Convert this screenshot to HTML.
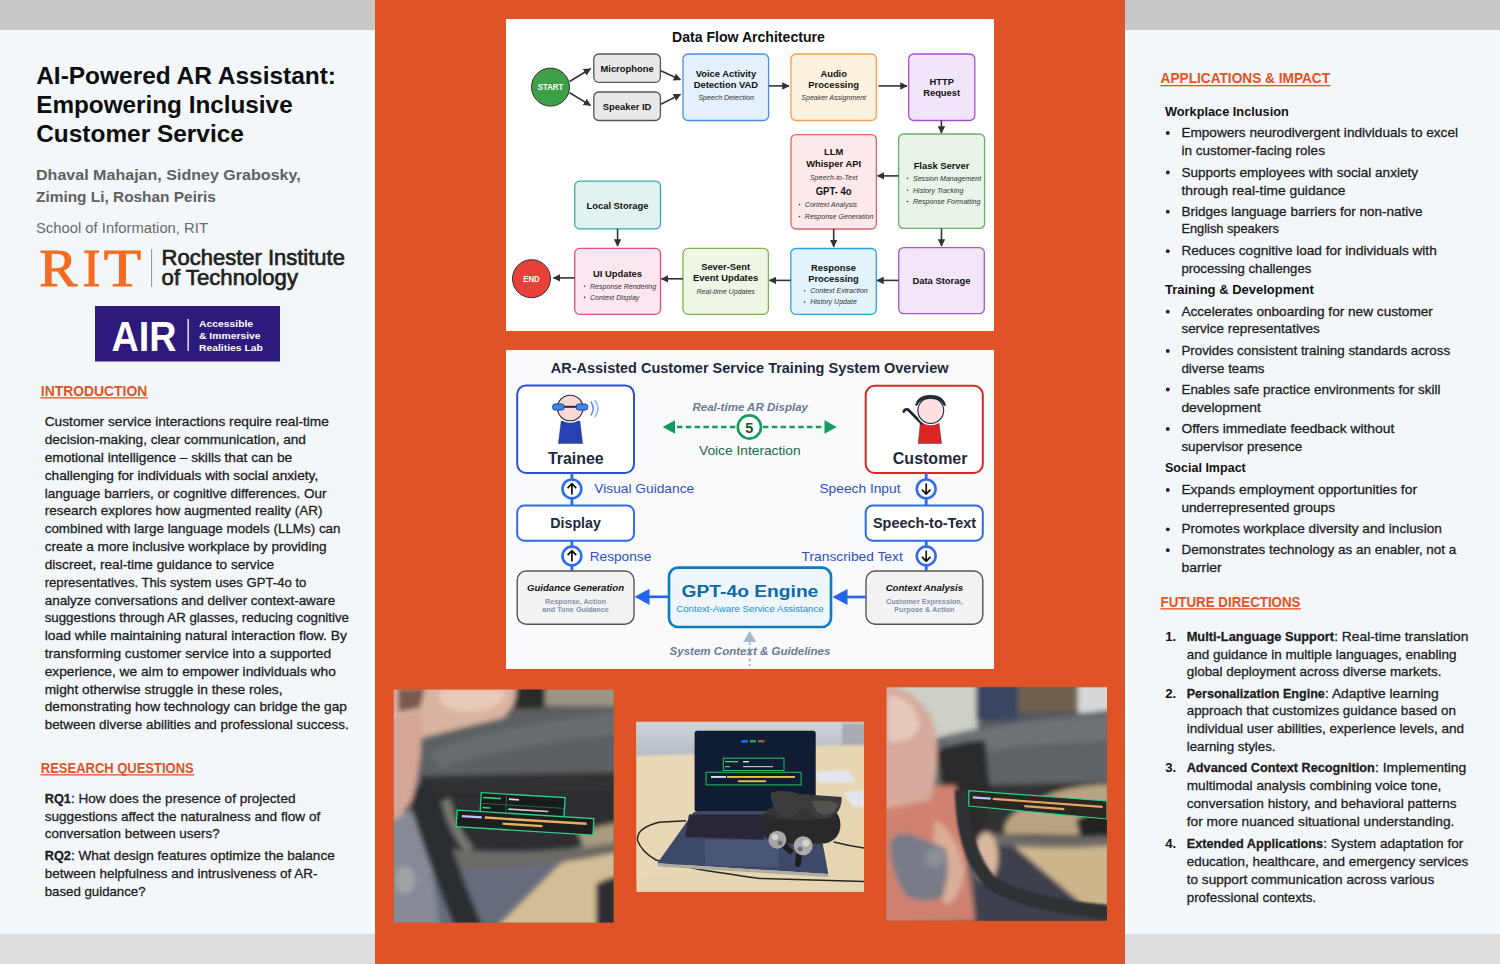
<!DOCTYPE html>
<html><head><meta charset="utf-8"><title>AI-Powered AR Assistant poster</title>
<style>
html,body{margin:0;padding:0;width:1500px;height:964px;overflow:hidden;background:#f4f7fa;}
svg{display:block;font-family:"Liberation Sans",sans-serif;}
</style></head><body>
<svg width="1500" height="964" viewBox="0 0 1500 964">
<rect x="0" y="0" width="1500" height="964" fill="#f4f7fa"/>
<rect x="0" y="0" width="375" height="30" fill="#c8c8c8"/>
<rect x="1125" y="0" width="375" height="30" fill="#c8c8c8"/>
<rect x="0" y="934" width="375" height="30" fill="#dddddd"/>
<rect x="1125" y="934" width="375" height="30" fill="#dddddd"/>
<rect x="375" y="0" width="750" height="964" fill="#df5326"/>
<rect x="371.5" y="30" width="3.5" height="904" fill="#fcfdfe"/>
<rect x="1125" y="30" width="2.5" height="904" fill="#fcfdfe"/>
<text transform="translate(36.20,83.90) scale(0.9946,1)" font-size="24.6" font-weight="bold" font-style="normal" fill="#0d0d0d" >AI-Powered AR Assistant:</text>
<text transform="translate(36.20,113.40) scale(0.9879,1)" font-size="24.6" font-weight="bold" font-style="normal" fill="#0d0d0d" >Empowering Inclusive</text>
<text transform="translate(36.20,142.30) scale(0.9933,1)" font-size="24.6" font-weight="bold" font-style="normal" fill="#0d0d0d" >Customer Service</text>
<text transform="translate(36.00,179.60) scale(1.0574,1)" font-size="15.2" font-weight="bold" font-style="normal" fill="#606060" >Dhaval Mahajan, Sidney Grabosky,</text>
<text transform="translate(36.00,202.30) scale(1.0143,1)" font-size="15.2" font-weight="bold" font-style="normal" fill="#606060" >Ziming Li, Roshan Peiris</text>
<text transform="translate(36.00,233.00) scale(1.0427,1)" font-size="14.2" font-weight="normal" font-style="normal" fill="#6a6a6a" >School of Information, RIT</text>
<text x="39.2" y="286.4" font-family="Liberation Serif" font-size="52" fill="#f36c21" stroke="#f36c21" stroke-width="1.0" textLength="38.1" lengthAdjust="spacingAndGlyphs">R</text>
<text x="82.8" y="286.4" font-family="Liberation Serif" font-size="52" fill="#f36c21" stroke="#f36c21" stroke-width="1.0" textLength="17.6" lengthAdjust="spacingAndGlyphs">I</text>
<text x="103.7" y="286.4" font-family="Liberation Serif" font-size="52" fill="#f36c21" stroke="#f36c21" stroke-width="1.0" textLength="37.4" lengthAdjust="spacingAndGlyphs">T</text>
<rect x="151" y="249" width="1.1" height="38" fill="#9a9a9a"/>
<text transform="translate(161.60,264.60) scale(0.9776,1)" font-size="22.5" font-weight="normal" font-style="normal" fill="#231f20" stroke="#231f20" stroke-width="0.7">Rochester Institute</text>
<text transform="translate(161.60,285.10) scale(0.9853,1)" font-size="22.5" font-weight="normal" font-style="normal" fill="#231f20" stroke="#231f20" stroke-width="0.7">of Technology</text>
<rect x="95" y="306" width="185" height="55.5" fill="#2d1a7c"/>
<text transform="translate(111.60,350.70) scale(0.8777,1)" font-size="43" font-weight="bold" font-style="normal" fill="#fff" >AIR</text>
<rect x="187.5" y="319" width="1.3" height="32" fill="#fff"/>
<text transform="translate(199.00,326.90) scale(1.0568,1)" font-size="9.8" font-weight="bold" font-style="normal" fill="#fff" >Accessible</text>
<text transform="translate(199.00,339.00) scale(1.0568,1)" font-size="9.8" font-weight="bold" font-style="normal" fill="#fff" >&amp; Immersive</text>
<text transform="translate(199.00,350.70) scale(1.0568,1)" font-size="9.8" font-weight="bold" font-style="normal" fill="#fff" >Realities Lab</text>
<text transform="translate(40.80,395.60) scale(0.9029,1)" font-size="15.4" font-weight="bold" font-style="normal" fill="#e4531f" >INTRODUCTION</text>
<rect x="40.5" y="397.20000000000005" width="107.19999999999999" height="1.3" fill="#e4531f"/>
<text transform="translate(44.70,426.40) scale(1.0393,1)" font-size="13.2" font-weight="normal" font-style="normal" fill="#1c1c1c" stroke="#1c1c1c" stroke-width="0.28">Customer service interactions require real-time</text>
<text transform="translate(44.70,444.21) scale(1.0331,1)" font-size="13.2" font-weight="normal" font-style="normal" fill="#1c1c1c" stroke="#1c1c1c" stroke-width="0.28">decision-making, clear communication, and</text>
<text transform="translate(44.70,462.02) scale(1.0355,1)" font-size="13.2" font-weight="normal" font-style="normal" fill="#1c1c1c" stroke="#1c1c1c" stroke-width="0.28">emotional intelligence – skills that can be</text>
<text transform="translate(44.70,479.83) scale(1.0371,1)" font-size="13.2" font-weight="normal" font-style="normal" fill="#1c1c1c" stroke="#1c1c1c" stroke-width="0.28">challenging for individuals with social anxiety,</text>
<text transform="translate(44.70,497.64) scale(1.0265,1)" font-size="13.2" font-weight="normal" font-style="normal" fill="#1c1c1c" stroke="#1c1c1c" stroke-width="0.28">language barriers, or cognitive differences. Our</text>
<text transform="translate(44.70,515.45) scale(1.0213,1)" font-size="13.2" font-weight="normal" font-style="normal" fill="#1c1c1c" stroke="#1c1c1c" stroke-width="0.28">research explores how augmented reality (AR)</text>
<text transform="translate(44.70,533.26) scale(1.0165,1)" font-size="13.2" font-weight="normal" font-style="normal" fill="#1c1c1c" stroke="#1c1c1c" stroke-width="0.28">combined with large language models (LLMs) can</text>
<text transform="translate(44.70,551.07) scale(1.0312,1)" font-size="13.2" font-weight="normal" font-style="normal" fill="#1c1c1c" stroke="#1c1c1c" stroke-width="0.28">create a more inclusive workplace by providing</text>
<text transform="translate(44.70,568.88) scale(1.0324,1)" font-size="13.2" font-weight="normal" font-style="normal" fill="#1c1c1c" stroke="#1c1c1c" stroke-width="0.28">discreet, real-time guidance to service</text>
<text transform="translate(44.70,586.69) scale(0.9957,1)" font-size="13.2" font-weight="normal" font-style="normal" fill="#1c1c1c" stroke="#1c1c1c" stroke-width="0.28">representatives. This system uses GPT-4o to</text>
<text transform="translate(44.70,604.50) scale(1.0188,1)" font-size="13.2" font-weight="normal" font-style="normal" fill="#1c1c1c" stroke="#1c1c1c" stroke-width="0.28">analyze conversations and deliver context-aware</text>
<text transform="translate(44.70,622.31) scale(1.0075,1)" font-size="13.2" font-weight="normal" font-style="normal" fill="#1c1c1c" stroke="#1c1c1c" stroke-width="0.28">suggestions through AR glasses, reducing cognitive</text>
<text transform="translate(44.70,640.12) scale(1.0517,1)" font-size="13.2" font-weight="normal" font-style="normal" fill="#1c1c1c" stroke="#1c1c1c" stroke-width="0.28">load while maintaining natural interaction flow. By</text>
<text transform="translate(44.70,657.93) scale(1.0413,1)" font-size="13.2" font-weight="normal" font-style="normal" fill="#1c1c1c" stroke="#1c1c1c" stroke-width="0.28">transforming customer service into a supported</text>
<text transform="translate(44.70,675.74) scale(1.0424,1)" font-size="13.2" font-weight="normal" font-style="normal" fill="#1c1c1c" stroke="#1c1c1c" stroke-width="0.28">experience, we aim to empower individuals who</text>
<text transform="translate(44.70,693.55) scale(1.0401,1)" font-size="13.2" font-weight="normal" font-style="normal" fill="#1c1c1c" stroke="#1c1c1c" stroke-width="0.28">might otherwise struggle in these roles,</text>
<text transform="translate(44.70,711.36) scale(1.0357,1)" font-size="13.2" font-weight="normal" font-style="normal" fill="#1c1c1c" stroke="#1c1c1c" stroke-width="0.28">demonstrating how technology can bridge the gap</text>
<text transform="translate(44.70,729.17) scale(1.0161,1)" font-size="13.2" font-weight="normal" font-style="normal" fill="#1c1c1c" stroke="#1c1c1c" stroke-width="0.28">between diverse abilities and professional success.</text>
<text transform="translate(40.80,772.60) scale(0.8434,1)" font-size="15.4" font-weight="bold" font-style="normal" fill="#e4531f" >RESEARCH QUESTIONS</text>
<rect x="40.5" y="774.2" width="153.6" height="1.3" fill="#e4531f"/>
<text transform="translate(44.70,803.10) scale(0.9653,1)" font-size="13.2" font-weight="bold" font-style="normal" fill="#1c1c1c" stroke="#1c1c1c" stroke-width="0.28">RQ1</text>
<text transform="translate(70.90,803.10) scale(1.0276,1)" font-size="13.2" font-weight="normal" font-style="normal" fill="#1c1c1c" stroke="#1c1c1c" stroke-width="0.28">: How does the presence of projected</text>
<text transform="translate(44.70,820.60) scale(1.0306,1)" font-size="13.2" font-weight="normal" font-style="normal" fill="#1c1c1c" stroke="#1c1c1c" stroke-width="0.28">suggestions affect the naturalness and flow of</text>
<text transform="translate(44.70,838.30) scale(1.0198,1)" font-size="13.2" font-weight="normal" font-style="normal" fill="#1c1c1c" stroke="#1c1c1c" stroke-width="0.28">conversation between users?</text>
<text transform="translate(44.70,859.70) scale(0.9653,1)" font-size="13.2" font-weight="bold" font-style="normal" fill="#1c1c1c" stroke="#1c1c1c" stroke-width="0.28">RQ2</text>
<text transform="translate(70.90,859.70) scale(1.0284,1)" font-size="13.2" font-weight="normal" font-style="normal" fill="#1c1c1c" stroke="#1c1c1c" stroke-width="0.28">: What design features optimize the balance</text>
<text transform="translate(44.70,877.60) scale(1.0225,1)" font-size="13.2" font-weight="normal" font-style="normal" fill="#1c1c1c" stroke="#1c1c1c" stroke-width="0.28">between helpfulness and intrusiveness of AR-</text>
<text transform="translate(44.70,895.50) scale(1.0034,1)" font-size="13.2" font-weight="normal" font-style="normal" fill="#1c1c1c" stroke="#1c1c1c" stroke-width="0.28">based guidance?</text>
<text transform="translate(1160.60,83.40) scale(0.8876,1)" font-size="15.4" font-weight="bold" font-style="normal" fill="#e4531f" >APPLICATIONS &amp; IMPACT</text>
<rect x="1160.3" y="85.0" width="170.2" height="1.3" fill="#e4531f"/>
<text transform="translate(1165.00,115.80) scale(0.9678,1)" font-size="13.2" font-weight="bold" font-style="normal" fill="#111" >Workplace Inclusion</text>
<circle cx="1167.8" cy="133.0" r="1.9" fill="#222"/>
<text transform="translate(1181.40,137.00) scale(1.0311,1)" font-size="13.2" font-weight="normal" font-style="normal" fill="#1c1c1c" stroke="#1c1c1c" stroke-width="0.28">Empowers neurodivergent individuals to excel</text>
<text transform="translate(1181.40,154.70) scale(1.0241,1)" font-size="13.2" font-weight="normal" font-style="normal" fill="#1c1c1c" stroke="#1c1c1c" stroke-width="0.28">in customer-facing roles</text>
<circle cx="1167.8" cy="172.5" r="1.9" fill="#222"/>
<text transform="translate(1181.40,176.50) scale(1.0278,1)" font-size="13.2" font-weight="normal" font-style="normal" fill="#1c1c1c" stroke="#1c1c1c" stroke-width="0.28">Supports employees with social anxiety</text>
<text transform="translate(1181.40,194.50) scale(1.0450,1)" font-size="13.2" font-weight="normal" font-style="normal" fill="#1c1c1c" stroke="#1c1c1c" stroke-width="0.28">through real-time guidance</text>
<circle cx="1167.8" cy="211.7" r="1.9" fill="#222"/>
<text transform="translate(1181.40,215.70) scale(1.0244,1)" font-size="13.2" font-weight="normal" font-style="normal" fill="#1c1c1c" stroke="#1c1c1c" stroke-width="0.28">Bridges language barriers for non-native</text>
<text transform="translate(1181.40,233.40) scale(0.9709,1)" font-size="13.2" font-weight="normal" font-style="normal" fill="#1c1c1c" stroke="#1c1c1c" stroke-width="0.28">English speakers</text>
<circle cx="1167.8" cy="251.2" r="1.9" fill="#222"/>
<text transform="translate(1181.40,255.20) scale(1.0302,1)" font-size="13.2" font-weight="normal" font-style="normal" fill="#1c1c1c" stroke="#1c1c1c" stroke-width="0.28">Reduces cognitive load for individuals with</text>
<text transform="translate(1181.40,273.00) scale(0.9953,1)" font-size="13.2" font-weight="normal" font-style="normal" fill="#1c1c1c" stroke="#1c1c1c" stroke-width="0.28">processing challenges</text>
<text transform="translate(1165.00,294.10) scale(0.9855,1)" font-size="13.2" font-weight="bold" font-style="normal" fill="#111" >Training &amp; Development</text>
<circle cx="1167.8" cy="311.7" r="1.9" fill="#222"/>
<text transform="translate(1181.40,315.70) scale(1.0337,1)" font-size="13.2" font-weight="normal" font-style="normal" fill="#1c1c1c" stroke="#1c1c1c" stroke-width="0.28">Accelerates onboarding for new customer</text>
<text transform="translate(1181.40,333.40) scale(1.0204,1)" font-size="13.2" font-weight="normal" font-style="normal" fill="#1c1c1c" stroke="#1c1c1c" stroke-width="0.28">service representatives</text>
<circle cx="1167.8" cy="351.0" r="1.9" fill="#222"/>
<text transform="translate(1181.40,355.00) scale(1.0135,1)" font-size="13.2" font-weight="normal" font-style="normal" fill="#1c1c1c" stroke="#1c1c1c" stroke-width="0.28">Provides consistent training standards across</text>
<text transform="translate(1181.40,372.60) scale(1.0126,1)" font-size="13.2" font-weight="normal" font-style="normal" fill="#1c1c1c" stroke="#1c1c1c" stroke-width="0.28">diverse teams</text>
<circle cx="1167.8" cy="389.5" r="1.9" fill="#222"/>
<text transform="translate(1181.40,393.50) scale(1.0215,1)" font-size="13.2" font-weight="normal" font-style="normal" fill="#1c1c1c" stroke="#1c1c1c" stroke-width="0.28">Enables safe practice environments for skill</text>
<text transform="translate(1181.40,411.50) scale(1.0518,1)" font-size="13.2" font-weight="normal" font-style="normal" fill="#1c1c1c" stroke="#1c1c1c" stroke-width="0.28">development</text>
<circle cx="1167.8" cy="429.0" r="1.9" fill="#222"/>
<text transform="translate(1181.40,433.00) scale(1.0503,1)" font-size="13.2" font-weight="normal" font-style="normal" fill="#1c1c1c" stroke="#1c1c1c" stroke-width="0.28">Offers immediate feedback without</text>
<text transform="translate(1181.40,450.70) scale(1.0180,1)" font-size="13.2" font-weight="normal" font-style="normal" fill="#1c1c1c" stroke="#1c1c1c" stroke-width="0.28">supervisor presence</text>
<text transform="translate(1165.00,472.30) scale(0.9507,1)" font-size="13.2" font-weight="bold" font-style="normal" fill="#111" >Social Impact</text>
<circle cx="1167.8" cy="490.0" r="1.9" fill="#222"/>
<text transform="translate(1181.40,494.00) scale(1.0468,1)" font-size="13.2" font-weight="normal" font-style="normal" fill="#1c1c1c" stroke="#1c1c1c" stroke-width="0.28">Expands employment opportunities for</text>
<text transform="translate(1181.40,511.80) scale(1.0368,1)" font-size="13.2" font-weight="normal" font-style="normal" fill="#1c1c1c" stroke="#1c1c1c" stroke-width="0.28">underrepresented groups</text>
<circle cx="1167.8" cy="529.3" r="1.9" fill="#222"/>
<text transform="translate(1181.40,533.30) scale(1.0329,1)" font-size="13.2" font-weight="normal" font-style="normal" fill="#1c1c1c" stroke="#1c1c1c" stroke-width="0.28">Promotes workplace diversity and inclusion</text>
<circle cx="1167.8" cy="550.2" r="1.9" fill="#222"/>
<text transform="translate(1181.40,554.20) scale(1.0226,1)" font-size="13.2" font-weight="normal" font-style="normal" fill="#1c1c1c" stroke="#1c1c1c" stroke-width="0.28">Demonstrates technology as an enabler, not a</text>
<text transform="translate(1181.40,571.90) scale(1.0591,1)" font-size="13.2" font-weight="normal" font-style="normal" fill="#1c1c1c" stroke="#1c1c1c" stroke-width="0.28">barrier</text>
<text transform="translate(1160.60,606.60) scale(0.8658,1)" font-size="15.4" font-weight="bold" font-style="normal" fill="#e4531f" >FUTURE DIRECTIONS</text>
<rect x="1160.3" y="608.2" width="140.6" height="1.3" fill="#e4531f"/>
<text transform="translate(1165.20,640.50) scale(0.9992,1)" font-size="13.2" font-weight="bold" font-style="normal" fill="#111" >1.</text>
<text transform="translate(1186.70,640.50) scale(0.9718,1)" font-size="13.2" font-weight="bold" font-style="normal" fill="#1c1c1c" stroke="#1c1c1c" stroke-width="0.28">Multi-Language Support</text>
<text transform="translate(1334.20,640.50) scale(1.0453,1)" font-size="13.2" font-weight="normal" font-style="normal" fill="#1c1c1c" stroke="#1c1c1c" stroke-width="0.28">: Real-time translation</text>
<text transform="translate(1186.70,658.50) scale(1.0223,1)" font-size="13.2" font-weight="normal" font-style="normal" fill="#1c1c1c" stroke="#1c1c1c" stroke-width="0.28">and guidance in multiple languages, enabling</text>
<text transform="translate(1186.70,676.40) scale(1.0192,1)" font-size="13.2" font-weight="normal" font-style="normal" fill="#1c1c1c" stroke="#1c1c1c" stroke-width="0.28">global deployment across diverse markets.</text>
<text transform="translate(1165.20,697.50) scale(0.9992,1)" font-size="13.2" font-weight="bold" font-style="normal" fill="#111" >2.</text>
<text transform="translate(1186.70,697.50) scale(0.9523,1)" font-size="13.2" font-weight="bold" font-style="normal" fill="#1c1c1c" stroke="#1c1c1c" stroke-width="0.28">Personalization Engine</text>
<text transform="translate(1325.00,697.50) scale(1.0478,1)" font-size="13.2" font-weight="normal" font-style="normal" fill="#1c1c1c" stroke="#1c1c1c" stroke-width="0.28">: Adaptive learning</text>
<text transform="translate(1186.70,715.30) scale(1.0145,1)" font-size="13.2" font-weight="normal" font-style="normal" fill="#1c1c1c" stroke="#1c1c1c" stroke-width="0.28">approach that customizes guidance based on</text>
<text transform="translate(1186.70,733.00) scale(1.0253,1)" font-size="13.2" font-weight="normal" font-style="normal" fill="#1c1c1c" stroke="#1c1c1c" stroke-width="0.28">individual user abilities, experience levels, and</text>
<text transform="translate(1186.70,750.70) scale(1.0097,1)" font-size="13.2" font-weight="normal" font-style="normal" fill="#1c1c1c" stroke="#1c1c1c" stroke-width="0.28">learning styles.</text>
<text transform="translate(1165.20,772.40) scale(0.9992,1)" font-size="13.2" font-weight="bold" font-style="normal" fill="#111" >3.</text>
<text transform="translate(1186.70,772.40) scale(0.9611,1)" font-size="13.2" font-weight="bold" font-style="normal" fill="#1c1c1c" stroke="#1c1c1c" stroke-width="0.28">Advanced Context Recognition</text>
<text transform="translate(1374.90,772.40) scale(1.0569,1)" font-size="13.2" font-weight="normal" font-style="normal" fill="#1c1c1c" stroke="#1c1c1c" stroke-width="0.28">: Implementing</text>
<text transform="translate(1186.70,790.20) scale(1.0344,1)" font-size="13.2" font-weight="normal" font-style="normal" fill="#1c1c1c" stroke="#1c1c1c" stroke-width="0.28">multimodal analysis combining voice tone,</text>
<text transform="translate(1186.70,808.00) scale(1.0321,1)" font-size="13.2" font-weight="normal" font-style="normal" fill="#1c1c1c" stroke="#1c1c1c" stroke-width="0.28">conversation history, and behavioral patterns</text>
<text transform="translate(1186.70,825.80) scale(1.0405,1)" font-size="13.2" font-weight="normal" font-style="normal" fill="#1c1c1c" stroke="#1c1c1c" stroke-width="0.28">for more nuanced situational understanding.</text>
<text transform="translate(1165.20,847.70) scale(0.9992,1)" font-size="13.2" font-weight="bold" font-style="normal" fill="#111" >4.</text>
<text transform="translate(1186.70,847.70) scale(0.9626,1)" font-size="13.2" font-weight="bold" font-style="normal" fill="#1c1c1c" stroke="#1c1c1c" stroke-width="0.28">Extended Applications</text>
<text transform="translate(1323.20,847.70) scale(1.0329,1)" font-size="13.2" font-weight="normal" font-style="normal" fill="#1c1c1c" stroke="#1c1c1c" stroke-width="0.28">: System adaptation for</text>
<text transform="translate(1186.70,865.60) scale(1.0183,1)" font-size="13.2" font-weight="normal" font-style="normal" fill="#1c1c1c" stroke="#1c1c1c" stroke-width="0.28">education, healthcare, and emergency services</text>
<text transform="translate(1186.70,883.50) scale(1.0325,1)" font-size="13.2" font-weight="normal" font-style="normal" fill="#1c1c1c" stroke="#1c1c1c" stroke-width="0.28">to support communication across various</text>
<text transform="translate(1186.70,901.50) scale(1.0143,1)" font-size="13.2" font-weight="normal" font-style="normal" fill="#1c1c1c" stroke="#1c1c1c" stroke-width="0.28">professional contexts.</text>
<rect x="506" y="19" width="488" height="312" fill="#ffffff"/>
<text transform="translate(672.00,41.70) scale(1.0069,1)" font-size="14" font-weight="bold" font-style="normal" fill="#111" >Data Flow Architecture</text>
<defs><marker id="ah" viewBox="0 0 10 10" refX="9" refY="5" markerWidth="7.5" markerHeight="7.5" markerUnits="userSpaceOnUse" orient="auto"><path d="M0,0 L10,5 L0,10 z" fill="#333"/></marker></defs>
<circle cx="550.5" cy="87.1" r="19" fill="#3da047" stroke="#333" stroke-width="1"/>
<text transform="translate(537.81,90.20) scale(0.9500,1)" font-size="8.2" font-weight="bold" font-style="normal" fill="#fff" >START</text>
<circle cx="531.5" cy="278.7" r="19" fill="#e8413a" stroke="#333" stroke-width="1"/>
<text transform="translate(523.28,281.80) scale(0.9500,1)" font-size="8.2" font-weight="bold" font-style="normal" fill="#fff" >END</text>
<rect x="593.8" y="54" width="66.6" height="28.3" rx="5" fill="#e8e8e8" stroke="#555" stroke-width="1.3"/>
<rect x="593.8" y="92" width="66.6" height="28.5" rx="5" fill="#e8e8e8" stroke="#555" stroke-width="1.3"/>
<text transform="translate(600.47,71.60) scale(1.0000,1)" font-size="9.4" font-weight="bold" font-style="normal" fill="#111" >Microphone</text>
<text transform="translate(602.80,109.60) scale(1.0000,1)" font-size="9.4" font-weight="bold" font-style="normal" fill="#111" >Speaker ID</text>
<rect x="683" y="54" width="85.6" height="66.5" rx="5" fill="#e4f0fc" stroke="#4a90e2" stroke-width="1.3"/>
<text transform="translate(695.70,76.80) scale(1.0000,1)" font-size="9.4" font-weight="bold" font-style="normal" fill="#111" >Voice Activity</text>
<text transform="translate(693.70,87.60) scale(1.0000,1)" font-size="9.4" font-weight="bold" font-style="normal" fill="#111" >Detection VAD</text>
<text transform="translate(698.17,99.50) scale(1.0000,1)" font-size="7.05" font-weight="normal" font-style="italic" fill="#333" >Speech Detection</text>
<rect x="791" y="54" width="85.4" height="66.5" rx="5" fill="#fdf1e0" stroke="#f5a04a" stroke-width="1.3"/>
<text transform="translate(820.39,76.80) scale(1.0000,1)" font-size="9.4" font-weight="bold" font-style="normal" fill="#111" >Audio</text>
<text transform="translate(808.36,87.60) scale(1.0000,1)" font-size="9.4" font-weight="bold" font-style="normal" fill="#111" >Processing</text>
<text transform="translate(801.30,99.50) scale(1.0000,1)" font-size="7.05" font-weight="normal" font-style="italic" fill="#333" >Speaker Assignment</text>
<rect x="908.7" y="54" width="66.1" height="66.5" rx="5" fill="#f1e6f9" stroke="#a64fd1" stroke-width="1.3"/>
<text transform="translate(929.43,85.20) scale(1.0000,1)" font-size="9.4" font-weight="bold" font-style="normal" fill="#111" >HTTP</text>
<text transform="translate(923.16,96.40) scale(1.0000,1)" font-size="9.4" font-weight="bold" font-style="normal" fill="#111" >Request</text>
<rect x="791" y="134.6" width="85.4" height="94.4" rx="5" fill="#fde8ea" stroke="#e06666" stroke-width="1.3"/>
<text transform="translate(824.04,154.90) scale(1.0000,1)" font-size="9.4" font-weight="bold" font-style="normal" fill="#111" >LLM</text>
<text transform="translate(806.19,167.00) scale(1.0000,1)" font-size="9.4" font-weight="bold" font-style="normal" fill="#111" >Whisper API</text>
<text transform="translate(809.92,179.50) scale(1.0000,1)" font-size="7.05" font-weight="normal" font-style="italic" fill="#333" >Speech-to-Text</text>
<text transform="translate(815.70,195.00) scale(0.9528,1)" font-size="10" font-weight="bold" font-style="normal" fill="#111" >GPT- 4o</text>
<circle cx="799.5" cy="204.6" r="0.8" fill="#333"/>
<text transform="translate(804.80,206.90) scale(1.0000,1)" font-size="7.05" font-weight="normal" font-style="italic" fill="#333" >Context Analysis</text>
<circle cx="799.5" cy="216.5" r="0.8" fill="#333"/>
<text transform="translate(804.80,218.80) scale(1.0000,1)" font-size="7.05" font-weight="normal" font-style="italic" fill="#333" >Response Generation</text>
<rect x="898.6" y="134" width="86.0" height="94.4" rx="5" fill="#e7f4e7" stroke="#6ab06a" stroke-width="1.3"/>
<text transform="translate(913.64,168.70) scale(1.0000,1)" font-size="9.4" font-weight="bold" font-style="normal" fill="#111" >Flask Server</text>
<circle cx="907.5" cy="178.29999999999998" r="0.8" fill="#333"/>
<text transform="translate(913.00,180.60) scale(1.0000,1)" font-size="7.05" font-weight="normal" font-style="italic" fill="#333" >Session Management</text>
<circle cx="907.5" cy="190.29999999999998" r="0.8" fill="#333"/>
<text transform="translate(913.00,192.60) scale(1.0000,1)" font-size="7.05" font-weight="normal" font-style="italic" fill="#333" >History Tracking</text>
<circle cx="907.5" cy="201.5" r="0.8" fill="#333"/>
<text transform="translate(913.00,203.80) scale(1.0000,1)" font-size="7.05" font-weight="normal" font-style="italic" fill="#333" >Response Formatting</text>
<rect x="574.7" y="181.2" width="85.8" height="47.6" rx="5" fill="#e1f2f2" stroke="#3aa8a8" stroke-width="1.3"/>
<text transform="translate(586.52,209.20) scale(1.0000,1)" font-size="9.4" font-weight="bold" font-style="normal" fill="#111" >Local Storage</text>
<rect x="574.7" y="248.4" width="85.8" height="65.9" rx="5" fill="#fce6ef" stroke="#e94a8a" stroke-width="1.3"/>
<text transform="translate(593.05,276.80) scale(1.0000,1)" font-size="9.4" font-weight="bold" font-style="normal" fill="#111" >UI Updates</text>
<circle cx="584.6" cy="286.2" r="0.8" fill="#333"/>
<text transform="translate(590.00,288.50) scale(1.0000,1)" font-size="7.05" font-weight="normal" font-style="italic" fill="#333" >Response Rendering</text>
<circle cx="584.6" cy="297.4" r="0.8" fill="#333"/>
<text transform="translate(590.00,299.70) scale(1.0000,1)" font-size="7.05" font-weight="normal" font-style="italic" fill="#333" >Context Display</text>
<rect x="683" y="248.4" width="85.4" height="65.9" rx="5" fill="#eef6e6" stroke="#7ab648" stroke-width="1.3"/>
<text transform="translate(701.14,270.40) scale(1.0000,1)" font-size="9.4" font-weight="bold" font-style="normal" fill="#111" >Sever-Sent</text>
<text transform="translate(693.05,281.00) scale(1.0000,1)" font-size="9.4" font-weight="bold" font-style="normal" fill="#111" >Event Updates</text>
<text transform="translate(696.51,293.60) scale(1.0000,1)" font-size="7.05" font-weight="normal" font-style="italic" fill="#333" >Real-time Updates</text>
<rect x="790.8" y="248.5" width="85.5" height="65.8" rx="5" fill="#e2f3fb" stroke="#29a3e0" stroke-width="1.3"/>
<text transform="translate(811.04,270.90) scale(1.0000,1)" font-size="9.4" font-weight="bold" font-style="normal" fill="#111" >Response</text>
<text transform="translate(808.16,281.50) scale(1.0000,1)" font-size="9.4" font-weight="bold" font-style="normal" fill="#111" >Processing</text>
<circle cx="804.6" cy="290.8" r="0.8" fill="#333"/>
<text transform="translate(810.20,293.10) scale(1.0000,1)" font-size="7.05" font-weight="normal" font-style="italic" fill="#333" >Context Extraction</text>
<circle cx="804.6" cy="302.09999999999997" r="0.8" fill="#333"/>
<text transform="translate(810.20,304.40) scale(1.0000,1)" font-size="7.05" font-weight="normal" font-style="italic" fill="#333" >History Update</text>
<rect x="898.7" y="247.6" width="85.6" height="66.1" rx="5" fill="#f2e6f8" stroke="#a05cc8" stroke-width="1.3"/>
<text transform="translate(912.51,284.30) scale(1.0000,1)" font-size="9.4" font-weight="bold" font-style="normal" fill="#111" >Data Storage</text>
<line x1="569.6" y1="81.5" x2="590.5" y2="68.8" stroke="#333" stroke-width="1.6" marker-end="url(#ah)"/>
<line x1="569.6" y1="92.7" x2="590.5" y2="105.4" stroke="#333" stroke-width="1.6" marker-end="url(#ah)"/>
<line x1="660.8" y1="70.8" x2="680.5" y2="79.8" stroke="#333" stroke-width="1.6" marker-end="url(#ah)"/>
<line x1="660.8" y1="104.3" x2="680.5" y2="94.4" stroke="#333" stroke-width="1.6" marker-end="url(#ah)"/>
<line x1="769" y1="85.9" x2="789" y2="85.9" stroke="#333" stroke-width="1.6" marker-end="url(#ah)"/>
<line x1="878.4" y1="85.9" x2="907" y2="85.9" stroke="#333" stroke-width="1.6" marker-end="url(#ah)"/>
<line x1="941.4" y1="120.5" x2="941.4" y2="132.9" stroke="#333" stroke-width="1.6" marker-end="url(#ah)"/>
<line x1="898.6" y1="175.9" x2="877.6" y2="175.9" stroke="#333" stroke-width="1.6" marker-end="url(#ah)"/>
<line x1="833.7" y1="229" x2="833.7" y2="246.7" stroke="#333" stroke-width="1.6" marker-end="url(#ah)"/>
<line x1="941.5" y1="228.4" x2="941.5" y2="246" stroke="#333" stroke-width="1.6" marker-end="url(#ah)"/>
<line x1="898.7" y1="280.4" x2="877" y2="280.4" stroke="#333" stroke-width="1.6" marker-end="url(#ah)"/>
<line x1="790.8" y1="280.4" x2="769.5" y2="280.4" stroke="#333" stroke-width="1.6" marker-end="url(#ah)"/>
<line x1="683" y1="278.8" x2="661.5" y2="278.8" stroke="#333" stroke-width="1.6" marker-end="url(#ah)"/>
<line x1="574.7" y1="277.9" x2="553.5" y2="277.9" stroke="#333" stroke-width="1.6" marker-end="url(#ah)"/>
<line x1="617.6" y1="228.8" x2="617.6" y2="246" stroke="#333" stroke-width="1.6" marker-end="url(#ah)"/>
<rect x="506" y="350" width="488" height="319" fill="#f8fafc"/>
<text transform="translate(550.80,373.20) scale(1.0504,1)" font-size="13.8" font-weight="bold" font-style="normal" fill="#1e293b" >AR-Assisted Customer Service Training System Overview</text>
<rect x="517.2" y="385.4" width="116.8" height="87.6" rx="9" fill="#fff" stroke="#2b4fd0" stroke-width="2"/>
<text transform="translate(548.00,463.80) scale(0.9639,1)" font-size="16.5" font-weight="bold" font-style="normal" fill="#1e293b" >Trainee</text>
<path d="M561.2,421 L579.9,421 L582.6,443.5 L558.4,443.5 Z" fill="#2541b2" stroke="#1e293b" stroke-width="0.4"/>
<circle cx="570.2" cy="408" r="13.3" fill="#fff" stroke="#fff" stroke-width="3"/>
<circle cx="570.2" cy="408" r="12.8" fill="#fad8d6" stroke="#1e293b" stroke-width="1.1"/>
<line x1="563" y1="406.8" x2="577" y2="406.8" stroke="#1e293b" stroke-width="2"/>
<rect x="552.6" y="403.9" width="11.6" height="6.2" rx="2.6" fill="#3f86ea" stroke="#1e3a7a" stroke-width="0.9"/>
<rect x="576.2" y="403.9" width="11.6" height="6.2" rx="2.6" fill="#3f86ea" stroke="#1e3a7a" stroke-width="0.9"/>
<path d="M590.8,401.5 Q595.5,408.7 590.8,415.5" stroke="#5b8ef0" stroke-width="1.5" fill="none"/>
<path d="M594.8,400 Q601,408.7 594.8,417" stroke="#8db0f5" stroke-width="1.5" fill="none"/>
<rect x="865.7" y="385.8" width="117.1" height="87.2" rx="9" fill="#fff" stroke="#dc2626" stroke-width="2"/>
<text transform="translate(892.80,463.80) scale(0.9699,1)" font-size="16.5" font-weight="bold" font-style="normal" fill="#1e293b" >Customer</text>
<path d="M920.4,421.5 L938.8,421.5 L941.6,443.5 L918.2,443.5 Z" fill="#dc2626" stroke="#1e293b" stroke-width="0.4"/>
<path d="M903.8,411.6 Q905,408.6 908,409.6 L921.8,423.5" stroke="#1e293b" stroke-width="2.8" fill="none" stroke-linecap="round" stroke-linejoin="round"/>
<circle cx="930.8" cy="410.5" r="13.2" fill="#fff" stroke="#fff" stroke-width="3"/>
<circle cx="930.8" cy="410.5" r="12.9" fill="#fde0e0" stroke="#1e293b" stroke-width="1.1"/>
<path d="M915.6,405.3 Q917.5,395.5 930.5,395.3 Q943.5,395.5 945.5,405.3 L944,405.3 Q941.5,398.6 930.5,398.5 Q919.5,398.6 917,405.3 Z" fill="#1e293b" stroke="#1e293b" stroke-width="0.8"/>
<text transform="translate(692.40,410.60) scale(1.0317,1)" font-size="11.2" font-weight="bold" font-style="italic" fill="#6b7a90" >Real-time AR Display</text>
<line x1="677" y1="427" x2="737" y2="427" stroke="#169a60" stroke-width="2.6" stroke-dasharray="5.5,3.3"/>
<line x1="763" y1="427" x2="823" y2="427" stroke="#169a60" stroke-width="2.6" stroke-dasharray="5.5,3.3"/>
<path d="M662.7,427 L675,420.3 L675,433.7 Z" fill="#169a60"/>
<path d="M836.7,427 L824.5,420.3 L824.5,433.7 Z" fill="#169a60"/>
<circle cx="749.4" cy="427" r="11.6" fill="#fff" stroke="#169a60" stroke-width="2.6"/>
<text transform="translate(745.37,432.60) scale(1.0000,1)" font-size="14.5" font-weight="bold" font-style="normal" fill="#14532d" >5</text>
<text transform="translate(699.00,455.40) scale(1.0581,1)" font-size="13" font-weight="normal" font-style="normal" fill="#1b6b48" >Voice Interaction</text>
<line x1="571.9" y1="473" x2="571.9" y2="505.6" stroke="#2f6bf0" stroke-width="2.8"/>
<circle cx="571.9" cy="488.9" r="9.4" fill="#fff" stroke="#2f6bf0" stroke-width="2.6"/>
<path d="M571.9,494.4 L571.9,483.9 M567.6,488.09999999999997 L571.9,483.7 L576.1999999999999,488.09999999999997" stroke="#111" stroke-width="1.7" fill="none"/>
<line x1="926.2" y1="473" x2="926.2" y2="505.6" stroke="#2f6bf0" stroke-width="2.8"/>
<circle cx="926.2" cy="488.9" r="9.4" fill="#fff" stroke="#2f6bf0" stroke-width="2.6"/>
<path d="M926.2,483.4 L926.2,493.9 M921.9000000000001,489.7 L926.2,494.09999999999997 L930.5,489.7" stroke="#111" stroke-width="1.7" fill="none"/>
<line x1="571.9" y1="540.7" x2="571.9" y2="571" stroke="#2f6bf0" stroke-width="2.8"/>
<circle cx="571.9" cy="556" r="9.4" fill="#fff" stroke="#2f6bf0" stroke-width="2.6"/>
<path d="M571.9,561.5 L571.9,551 M567.6,555.2 L571.9,550.8 L576.1999999999999,555.2" stroke="#111" stroke-width="1.7" fill="none"/>
<line x1="926.2" y1="540.7" x2="926.2" y2="571" stroke="#2f6bf0" stroke-width="2.8"/>
<circle cx="926.2" cy="556" r="9.4" fill="#fff" stroke="#2f6bf0" stroke-width="2.6"/>
<path d="M926.2,550.5 L926.2,561 M921.9000000000001,556.8 L926.2,561.2 L930.5,556.8" stroke="#111" stroke-width="1.7" fill="none"/>
<text transform="translate(594.30,493.20) scale(1.0578,1)" font-size="13" font-weight="normal" font-style="normal" fill="#2f4fc8" >Visual Guidance</text>
<text transform="translate(819.40,493.20) scale(1.0598,1)" font-size="13" font-weight="normal" font-style="normal" fill="#2f4fc8" >Speech Input</text>
<text transform="translate(589.70,560.70) scale(1.0523,1)" font-size="13" font-weight="normal" font-style="normal" fill="#2f4fc8" >Response</text>
<text transform="translate(801.60,560.70) scale(1.0621,1)" font-size="13" font-weight="normal" font-style="normal" fill="#2f4fc8" >Transcribed Text</text>
<rect x="517.2" y="505.6" width="116.8" height="35.1" rx="7" fill="#fff" stroke="#2f6bf0" stroke-width="2"/>
<rect x="865.7" y="505.6" width="117.1" height="35.1" rx="7" fill="#fff" stroke="#2f6bf0" stroke-width="2"/>
<text transform="translate(550.35,528.00) scale(0.9859,1)" font-size="14.4" font-weight="bold" font-style="normal" fill="#1e293b" >Display</text>
<text transform="translate(872.95,528.00) scale(1.0034,1)" font-size="14.4" font-weight="bold" font-style="normal" fill="#1e293b" >Speech-to-Text</text>
<rect x="517.2" y="571" width="116.8" height="53.2" rx="9" fill="#f3f3f4" stroke="#555" stroke-width="1.4"/>
<rect x="866" y="571" width="116.8" height="53.2" rx="9" fill="#f3f3f4" stroke="#555" stroke-width="1.4"/>
<text transform="translate(527.00,590.60) scale(1.0334,1)" font-size="9.3" font-weight="bold" font-style="italic" fill="#111" >Guidance Generation</text>
<text transform="translate(885.65,590.60) scale(1.0318,1)" font-size="9.3" font-weight="bold" font-style="italic" fill="#111" >Context Analysis</text>
<text transform="translate(544.95,603.70) scale(1.0125,1)" font-size="7.2" font-weight="bold" font-style="normal" fill="#8191a8" >Response, Action</text>
<text transform="translate(542.35,612.00) scale(1.0034,1)" font-size="7.2" font-weight="bold" font-style="normal" fill="#8191a8" >and Tone Guidance</text>
<text transform="translate(885.90,603.70) scale(1.0075,1)" font-size="7.2" font-weight="bold" font-style="normal" fill="#8191a8" >Customer Expression,</text>
<text transform="translate(894.25,612.00) scale(1.0027,1)" font-size="7.2" font-weight="bold" font-style="normal" fill="#8191a8" >Purpose &amp; Action</text>
<rect x="669" y="567.6" width="162" height="59.4" rx="9" fill="#eef6fc" stroke="#0a7cc4" stroke-width="2.6"/>
<text transform="translate(681.60,597.10) scale(1.1315,1)" font-size="17" font-weight="bold" font-style="normal" fill="#0b6aa8" >GPT-4o Engine</text>
<text transform="translate(676.25,612.00) scale(1.0064,1)" font-size="9.6" font-weight="normal" font-style="normal" fill="#1a8fd0" >Context-Aware Service Assistance</text>
<line x1="649" y1="596.8" x2="669" y2="596.8" stroke="#2563eb" stroke-width="2.6"/>
<path d="M634.5,596.8 L649.5,588.7 L649.5,604.9 Z" fill="#2563eb"/>
<line x1="846" y1="597" x2="866" y2="597" stroke="#2563eb" stroke-width="2.6"/>
<path d="M832.5,597 L847.5,588.9 L847.5,605.1 Z" fill="#2563eb"/>
<path d="M749.7,630.7 L756.2,642 L743.2,642 Z" fill="#a9b8d0"/>
<line x1="749.7" y1="642" x2="749.7" y2="666" stroke="#a9b8d0" stroke-width="2" stroke-dasharray="3,2.5"/>
<text transform="translate(669.60,654.70) scale(1.0306,1)" font-size="11.2" font-weight="bold" font-style="italic" fill="#6b7a90" >System Context &amp; Guidelines</text>
<defs>
<clipPath id="c1"><rect x="393.8" y="689.6" width="219.8" height="233"/></clipPath>
<clipPath id="c2"><rect x="636.3" y="721.7" width="227.7" height="170.2"/></clipPath>
<clipPath id="c3"><rect x="886.4" y="687.2" width="220.6" height="233.5"/></clipPath>
<filter id="b6" x="-20%" y="-20%" width="140%" height="140%"><feGaussianBlur stdDeviation="6"/></filter>
<filter id="b3" x="-20%" y="-20%" width="140%" height="140%"><feGaussianBlur stdDeviation="3"/></filter>
<filter id="b2" x="-20%" y="-20%" width="140%" height="140%"><feGaussianBlur stdDeviation="2.5"/></filter>
<filter id="b1" x="-20%" y="-20%" width="140%" height="140%"><feGaussianBlur stdDeviation="1"/></filter>
<filter id="b05" x="-20%" y="-20%" width="140%" height="140%"><feGaussianBlur stdDeviation="0.5"/></filter>
<filter id="speck" x="0" y="0" width="100%" height="100%"><feTurbulence type="fractalNoise" baseFrequency="0.9" numOctaves="1" seed="3"/><feColorMatrix type="matrix" values="0 0 0 0 0.42  0 0 0 0 0.44  0 0 0 0 0.50  0 0 0 1.6 -0.5"/><feComposite in2="SourceGraphic" operator="in"/></filter>
</defs>
<g clip-path="url(#c1)">
<rect x="393.8" y="689.6" width="219.8" height="233" fill="#5a5c60"/>
<g filter="url(#b2)">
<rect x="385" y="812" width="235" height="120" fill="#666c7c"/>
<path d="M385,812 L425,812 L440,930 L385,930 Z" fill="#858a96"/>
<ellipse cx="405" cy="880" rx="10" ry="14" fill="#a0a2a6"/>
<path d="M494,930 L556,868 Q585,842 620,826 L620,930 Z" fill="#d3bd96"/>
<path d="M596,884 Q606,878 620,876 L620,930 L596,930 Z" fill="#2e2e30"/>
<path d="M432,788 L620,785 L620,832 Q585,845 560,852 L445,852 Q435,820 432,788 Z" fill="#2e2f31"/>
<path d="M578,832 Q600,826 620,822 L620,845 L585,850 Z" fill="#a89a80"/>
<path d="M440,848 Q530,858 620,842 L620,852 Q530,872 445,866 Z" fill="#6c6a66"/>
<path d="M418,745 Q440,728 503,718 L620,705 L620,786 L430,790 Z" fill="#5d6163"/>
<path d="M430,752 Q480,728 620,712 L620,735 Q520,742 440,768 Z" fill="#686c6e"/>
<path d="M420,776 L620,772 L620,790 L425,794 Z" fill="#303132"/>
<rect x="505" y="680" width="40" height="28" fill="#2a2a2a"/>
<rect x="545" y="680" width="80" height="26" fill="#9c9484"/>
<path d="M418,785 Q440,860 470,930" stroke="#2c2d30" stroke-width="26" fill="none"/>
<path d="M446,800 Q452,830 470,850" stroke="#77776f" stroke-width="9" fill="none"/>
<path d="M385,685 L516,685 Q518,706 503,718 Q450,730 416,740 L385,745 Z" fill="#d9b3a0"/>
<path d="M440,690 L505,690 Q506,704 485,710 Q455,716 440,702 Z" fill="#e8cab8"/>
<path d="M398,688 L425,688 L420,708 L398,712 Z" fill="#7a5a4e"/>
<path d="M385,720 L420,712 Q425,760 412,800 L400,818 L385,820 Z" fill="#d3a698"/>
</g>
<g transform="rotate(3.5 520 815)">
<rect x="480" y="795" width="84" height="21.6" fill="#1a1c1c" stroke="#2ed08a" stroke-width="1.3"/>
<line x1="505.6" y1="795" x2="505.6" y2="816.6" stroke="#3a8a6a" stroke-width="0.6"/>
<line x1="480" y1="805.7" x2="564" y2="805.7" stroke="#3a8a6a" stroke-width="0.6"/>
<rect x="482" y="799" width="18" height="1.6" fill="#46c585"/><rect x="508" y="799" width="10" height="1.8" fill="#ddd"/>
<rect x="482" y="809" width="8" height="1.6" fill="#46c585"/><rect x="508" y="809" width="40" height="1.6" fill="#ccc"/>
<rect x="457" y="814" width="137" height="16.6" fill="#1e1e1e" stroke="#2ed08a" stroke-width="1.3"/>
<rect x="462" y="818.5" width="20" height="2.4" fill="#b8c4ff"/><rect x="485" y="818.5" width="102" height="2.4" fill="#e5b060"/>
<rect x="503" y="823.5" width="40" height="2.4" fill="#e5b060"/>
</g>
</g>
<defs><linearGradient id="wall2" x1="0" y1="0" x2="0" y2="1"><stop offset="0" stop-color="#d6d9dc"/><stop offset="1" stop-color="#b4bcc4"/></linearGradient></defs>
<g clip-path="url(#c2)">
<rect x="636.3" y="721.7" width="227.7" height="170.2" fill="#e6d6b2"/>
<g filter="url(#b1)">
<path d="M630,715 L870,715 L870,745 L817,746 L694,755 L630,756 Z" fill="url(#wall2)"/>
<rect x="842" y="715" width="25" height="30" fill="#a8acb2"/>
<rect x="636" y="721.5" width="228" height="2.5" fill="#c9ccd2"/>
<path d="M636,756 L694,754 L694,870 L636,880 Z" fill="#e8d8b6"/>
<path d="M816,771.4 L848,770 L856,782 L818,783 Z" fill="#e2e6ef"/>
<path d="M843.5,792 L864,790 L864,807 L852,806 Z" fill="#e2e6ef"/>
</g>
<path d="M686,820.7 L659,822.2 Q636,828 637.5,840.4 Q642,852 656,860 L697,869 Q740,876 760,878.4 L864,881.5" stroke="#262626" stroke-width="1.5" fill="none"/>
<path d="M833.6,842 Q850,846 864,848" stroke="#262626" stroke-width="1.5" fill="none"/>
<path d="M693.8,812 L817,812 L828.3,873.9 L657.3,863.2 Z" fill="#3e4868"/>
<path d="M657.3,863.2 L828.3,873.9 L828.3,877 L658,866.5 Z" fill="#b0aca2"/>
<path d="M689,814.6 L763.7,814.6 L763.7,839.7 L685,837 Z" fill="#2a2636"/>
<path d="M704.4,839.7 L778.1,839.7 L778.1,867 L705.2,865.5 Z" fill="#4a5578"/>
<rect x="694.6" y="730.8" width="121.1" height="81" rx="2.5" fill="#0f1c33"/>
<rect x="741.3" y="740" width="6.5" height="2.8" fill="#2f5ff0"/><rect x="750" y="740" width="6" height="2.5" fill="#3a9a5a"/><rect x="758" y="740" width="6.5" height="2.5" fill="#9a5a4a"/>
<rect x="723.3" y="758.2" width="60.7" height="12.3" fill="none" stroke="#22c55e" stroke-width="1"/>
<rect x="725" y="761" width="13" height="1.3" fill="#4ad07a"/><rect x="743" y="761" width="6" height="1.4" fill="#ddd"/><rect x="725" y="766" width="5" height="1.2" fill="#4ad07a"/><rect x="743" y="766" width="30" height="1.2" fill="#bbb"/>
<rect x="706.1" y="772.3" width="95" height="12.6" fill="none" stroke="#22c55e" stroke-width="1"/>
<rect x="711" y="776" width="15" height="1.9" fill="#dde"/><rect x="727" y="776" width="68" height="1.9" fill="#e8c050"/><rect x="738" y="780.3" width="28" height="1.9" fill="#e8c050"/>
<rect x="761.4" y="806" width="79" height="37.5" rx="18" fill="#29292b"/>
<ellipse cx="800" cy="812" rx="34" ry="8" fill="#353537"/>
<path d="M770.3,792.5 Q786,789 800,794 L841.7,797 Q842,812 830,818 Q815,822 808,810 L802,806 Q797,818 785,817 Q772,812 770.3,792.5 Z" fill="#3b3b3d"/>
<path d="M812,801 Q830,800 838,804 Q836,814 826,815 Q815,815 812,801 Z" fill="#55534f"/>
<path d="M781,842 L790,851 M800,848 L798,864" stroke="#1e1e1e" stroke-width="6" stroke-linecap="round"/>
<g filter="url(#b05)"><circle cx="777.4" cy="839.7" r="9" fill="#a6a6a6"/><circle cx="803.2" cy="845.8" r="9.5" fill="#acacac"/></g>
<g filter="url(#b05)"><circle cx="775" cy="837" r="3" fill="#d0d0d0"/><circle cx="806" cy="843" r="3.5" fill="#d4d4d4"/><circle cx="780" cy="843" r="2.5" fill="#707070"/><circle cx="800" cy="849" r="2.5" fill="#707070"/></g>
</g>
<g clip-path="url(#c3)">
<rect x="886.4" y="687.2" width="220.6" height="233.5" fill="#55585e"/>
<g filter="url(#b2)">
<rect x="880" y="680" width="98" height="65" fill="#ccd0c6"/>
<rect x="976" y="680" width="42" height="40" fill="#3b4560"/>
<rect x="1018" y="680" width="60" height="31" fill="#6e604e"/>
<rect x="1078" y="680" width="35" height="33" fill="#d8d8d8"/>
<rect x="975" y="836" width="140" height="90" fill="#3c414e"/>
<path d="M1008,841 L1110,841 L1110,910 L1082,904 Z" fill="#cdb68e"/>
<path d="M950,780 L1110,776 L1110,836 Q1030,840 958,830 Z" fill="#333231"/>
<path d="M1040,800 Q1060,786 1110,784 L1110,836 L1005,834 Q1000,815 1040,800 Z" fill="#b8a482"/>
<path d="M1076,820 Q1090,810 1110,812 L1110,836 L1080,836 Z" fill="#232324"/>
<path d="M955,828 Q1030,842 1110,836 L1110,846 Q1030,852 958,840 Z" fill="#6e6a66"/>
<path d="M930,740 Q990,722 1110,710 L1110,782 L935,786 Z" fill="#5f6368"/>
<path d="M945,738 Q1010,720 1110,716 L1110,740 Q1010,745 950,756 Z" fill="#6e7276"/>
<path d="M936,752 Q950,742 985,740 L990,790 Q985,830 978,850 L955,848 Q945,800 936,752 Z" fill="#2a2a2c"/>
<path d="M880,790 L955,785 Q965,830 975,921 L880,925 Z" fill="#d08270"/>
<path d="M935,820 Q955,830 965,870 Q960,900 945,905 Q930,880 935,820 Z" fill="#dcae98"/>
<ellipse cx="986" cy="857" rx="12" ry="25" fill="#d8b79e"/>
<path d="M890,845 Q892,832 910,834 L945,848 Q952,870 942,898 Q925,905 905,895 Q890,870 890,845 Z" fill="#777c86"/>
<circle cx="935" cy="858" r="10" fill="#8a8f98"/>
<path d="M880,683 Q925,690 936,730 Q940,775 930,800 L880,810 Z" fill="#d6aa9c"/>
<path d="M888,695 Q915,698 920,725 Q912,745 888,742 Z" fill="#e6c8ba"/>
</g>
<path d="M962,790 Q962,850 990,882 Q1025,905 1110,912" stroke="#2e3034" stroke-width="14" fill="none" filter="url(#b1)"/>
<path d="M968.8,790.7 L1107,801 L1107,819 L968.8,806 Z" fill="#2a2622" stroke="#2ed08a" stroke-width="1.2"/>
<g transform="rotate(4.2 970 795)"><rect x="973" y="796" width="18" height="2.2" fill="#b8c4ff"/><rect x="993" y="796" width="110" height="2.2" fill="#e5a860"/><rect x="1025" y="801" width="40" height="2.2" fill="#e5a860"/></g>
</g>
</svg>
</body></html>
